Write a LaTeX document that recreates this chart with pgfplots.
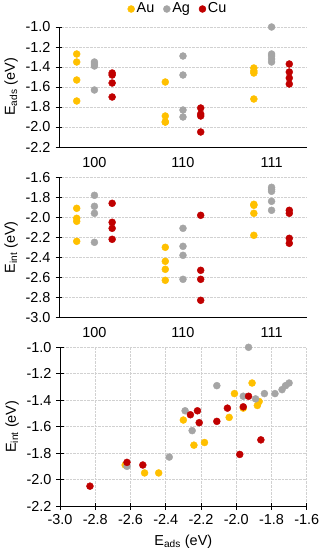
\documentclass[border=0pt]{standalone}
\usepackage{fontspec}
\setmainfont{Liberation Sans}
\usepackage{pgfplots}
\usepackage{pgfplotstable}
\pgfplotsset{compat=1.18}
\definecolor{cau}{HTML}{FFC000}
\definecolor{cag}{HTML}{A5A5A5}
\definecolor{ccu}{HTML}{C00000}
\newcommand{\chartfont}{\fontsize{14.5}{17}\selectfont}

% f: facet (1=100, 2=110, 3=111), eint: E_int (eV), eads: E_ads (eV)
\pgfplotstableread{
f eint eads
1 -1.91 -1.27
1 -2.01 -1.35
1 -2.04 -1.53
1 -2.24 -1.74
2 -2.30 -1.55
2 -2.44 -1.95
2 -2.52 -1.95
2 -2.63 -1.89
3 -1.87 -1.41
3 -1.88 -1.44
3 -1.96 -1.46
3 -2.18 -1.72
}\au
\pgfplotstableread{
f eint eads
1 -1.78 -1.35
1 -1.96 -1.37
1 -1.89 -1.39
1 -2.25 -1.63
2 -2.11 -1.29
2 -2.29 -1.48
2 -2.38 -1.83
2 -2.62 -1.90
3 -1.93 -1.00
3 -1.70 -1.27
3 -1.72 -1.29
3 -1.74 -1.32
3 -1.84 -1.35
}\ag
\pgfplotstableread{
f eint eads
1 -1.86 -1.70
1 -2.05 -1.46
1 -2.11 -1.56
1 -2.22 -1.48
2 -1.98 -1.81
2 -2.53 -1.89
2 -2.62 -1.87
2 -2.83 -2.05
3 -1.93 -1.37
3 -1.96 -1.45
3 -2.21 -1.57
3 -2.26 -1.51
}\cu

\pgfplotsset{
  base/.style={
    scale only axis,
    font=\chartfont,
    tick label style={font=\chartfont},
    label style={font=\chartfont},
    axis x line=bottom, axis y line=left,
    axis line style={-, black, line width=0.8bp},
    tick style={black, line width=0.8bp},
    major tick length=7bp, tick align=center,
    grid style={densely dotted, black!18, line width=0.6bp},
    ymajorgrids,
    /pgf/number format/assume math mode=true,
    yticklabel style={/pgf/number format/fixed, /pgf/number format/fixed zerofill, /pgf/number format/precision=1},
    ytick distance=0.2,
    ylabel shift=-2bp,
    only marks,
  },
  cat/.style={
    base, width=248bp,
    xmin=0.6, xmax=3.4, xtick={1,2,3}, xticklabels={100,110,111},
    major x tick style={draw=none},
    xticklabel style={yshift=-2bp},
  },
  mau/.style={mark=*, mark size=3.5bp, color=cau},
  mag/.style={mark=*, mark size=3.5bp, color=cag},
  mcu/.style={mark=*, mark size=3.5bp, color=ccu},
}

\begin{document}
\chartfont
\begin{tikzpicture}[font=\chartfont]
\useasboundingbox (0,0) rectangle (322bp,-552bp);

\begin{axis}[cat, at={(59bp,-147bp)}, anchor=south west, height=120bp,
  ymin=-2.2, ymax=-1.0,
  ylabel={E\textsubscript{ads} (eV)},
  legend style={at={(0.48,1)}, anchor=center, yshift=18bp, draw=none, fill=none,
    font=\chartfont,
    legend columns=3, /tikz/every even column/.append style={column sep=7bp},
    inner sep=0pt},
  legend cell align=left]
\addplot[mau] table[x expr=\thisrow{f}-0.2, y=eads] {\au};
\addplot[mag] table[x expr=\thisrow{f}, y=eads] {\ag};
\addplot[mcu] table[x expr=\thisrow{f}+0.2, y=eads] {\cu};
\legend{Au, Ag, Cu}
\end{axis}

\begin{axis}[cat, at={(59bp,-317.3bp)}, anchor=south west, height=140bp,
  ymin=-3.0, ymax=-1.6,
  ylabel={E\textsubscript{int} (eV)}]
\addplot[mau] table[x expr=\thisrow{f}-0.2, y=eint] {\au};
\addplot[mag] table[x expr=\thisrow{f}, y=eint] {\ag};
\addplot[mcu] table[x expr=\thisrow{f}+0.2, y=eint] {\cu};
\end{axis}

\begin{axis}[base, at={(60bp,-506bp)}, anchor=south west, width=246.7bp, height=158.7bp,
  xmin=-3.0, xmax=-1.6, ymin=-2.2, ymax=-1.0,
  xtick distance=0.2, xmajorgrids,
  xticklabel style={/pgf/number format/fixed, /pgf/number format/fixed zerofill, /pgf/number format/precision=1},
  ylabel={E\textsubscript{int} (eV)},
  xlabel={E\textsubscript{ads} (eV)}]
\addplot[mau] table[x=eint, y=eads] {\au};
\addplot[mag] table[x=eint, y=eads] {\ag};
\addplot[mcu] table[x=eint, y=eads] {\cu};
\end{axis}
\end{tikzpicture}
\end{document}
